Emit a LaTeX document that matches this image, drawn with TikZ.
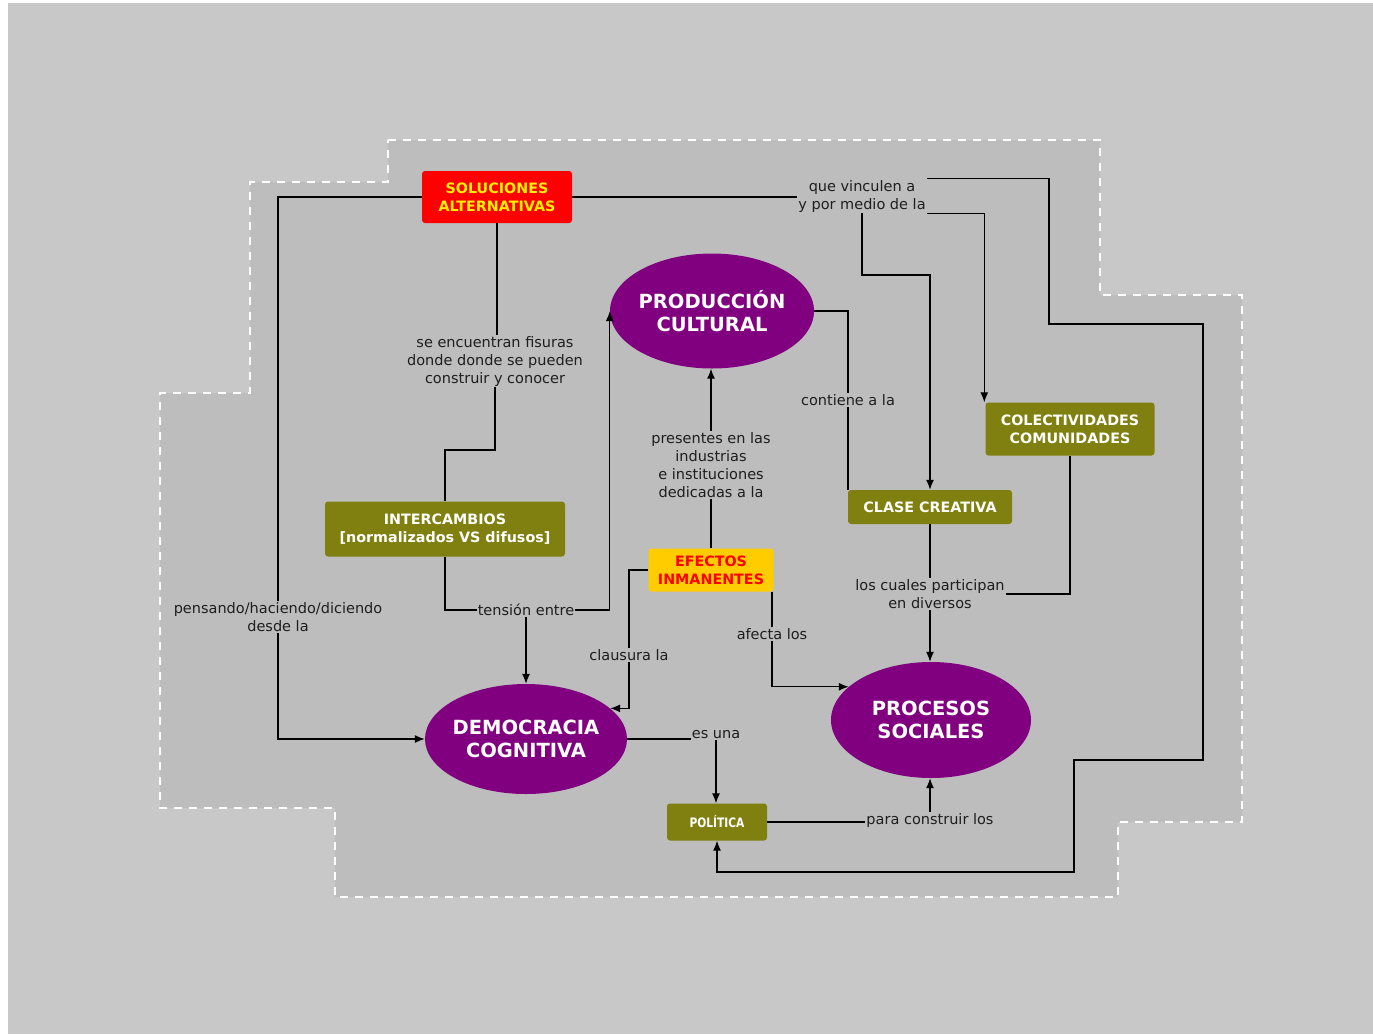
\documentclass[tikz,border=0pt]{standalone}
\usepackage{fontspec}
\setmainfont{DejaVu Sans}
\newfontfamily\condfont[FakeStretch=0.82]{DejaVu Sans}
\usetikzlibrary{shapes.geometric,arrows.meta}
\definecolor{outerbg}{RGB}{200,200,200}
\definecolor{innerbg}{RGB}{189,189,189}
\definecolor{olivefill}{RGB}{128,128,16}
\definecolor{purplefill}{RGB}{128,0,128}
\definecolor{efefill}{RGB}{255,204,0}
\definecolor{labeltext}{RGB}{30,30,30}
\tikzset{
  lbl/.style={inner sep=1pt, align=center, text=labeltext, font=\fontsize{14.5}{18}\selectfont},
  box/.style={rectangle, rounded corners=3pt, align=center, inner sep=2pt, font=\bfseries\fontsize{14.3}{18}\selectfont},
  obox/.style={box, fill=olivefill, text=white},
  oval/.style={ellipse, fill=purplefill, text=white, inner sep=-12pt, align=center, font=\bfseries\fontsize{19.5}{23}\selectfont},
  conn/.style={line width=1.3pt, draw=black},
  arr/.style={conn, -{Latex[length=10pt,width=8pt]}},
}
\begin{document}
\begin{tikzpicture}[x=1pt,y=-1pt]
\useasboundingbox (0,0) rectangle (1373,1034);
\fill[white] (0,0) rectangle (1373,1034);
\fill[outerbg] (8,3) rectangle (1373,1034);
\draw[fill=innerbg, draw=white, line width=2.5pt, dash pattern=on 8pt off 7pt]
  (388,140) -- (1100,140) -- (1100,295) -- (1242,295) -- (1242,822) -- (1118,822)
  -- (1118,897) -- (335,897) -- (335,808) -- (160,808) -- (160,393) -- (250,393)
  -- (250,182) -- (388,182) -- cycle;

% nodes
\node[box, fill=red, text=yellow, minimum width=150pt, minimum height=52pt] (sol) at (497,197) {SOLUCIONES\\ALTERNATIVAS};
\node[oval, minimum width=204pt, minimum height=115pt] (prod) at (712,311) {PRODUCCIÓN\\CULTURAL};
\node[obox, minimum width=240pt, minimum height=55pt] (inter) at (445,529) {INTERCAMBIOS\\{[}normalizados VS difusos{]}};
\node[box, fill=efefill, text=red, minimum width=125pt, minimum height=43pt] (efe) at (711,570) {EFECTOS\\INMANENTES};
\node[obox, minimum width=164pt, minimum height=34pt] (clase) at (930,507) {CLASE CREATIVA};
\node[obox, minimum width=169pt, minimum height=53pt] (col) at (1070,429) {COLECTIVIDADES\\COMUNIDADES};
\node[oval, minimum width=202pt, minimum height=110pt] (dem) at (526,739) {DEMOCRACIA\\COGNITIVA};
\node[oval, minimum width=200pt, minimum height=116pt] (proc) at (931,720) {PROCESOS\\SOCIALES};
\node[obox, minimum width=100pt, minimum height=37pt, font=\condfont\bfseries\fontsize{13}{16}\selectfont] (pol) at (717,822) {POLÍTICA};

% labels
\node[lbl] (l1) at (278,617) {pensando/haciendo/diciendo\\desde la};
\node[lbl] (l2) at (495,361) {se encuentran fisuras\\donde donde se pueden\\construir y conocer};
\node[lbl] (l3) at (526,610) {tensión entre};
\node[lbl] (l4) at (862,196) {que vinculen a\\y por medio de la};
\node[lbl] (l5) at (848,400) {contiene a la};
\node[lbl] (l6) at (711,465) {presentes en las\\industrias\\e instituciones\\dedicadas a la};
\node[lbl] (l7) at (629,655) {clausura la};
\node[lbl] (l8) at (772,634) {afecta los};
\node[lbl] (l9) at (930,594) {los cuales participan\\en diversos};
\node[lbl] (l10) at (716,735) {es una};
\node[lbl] (l11) at (930,820) {para construir los};

% connectors
\draw[conn] (sol.west) -| (l1.north);
\draw[arr] (l1.south) |- (dem.west);

\draw[conn] (sol.south) -- (sol.south |- l2.north);
\draw[conn] (l2.south) -- (l2.south |- 0,450) -| (inter.north);
\draw[conn] (inter.south) |- (l3.west);
\draw[arr] (l3.east) -| (prod.west);
\draw[arr] (l3.south) -- (dem.north);

\draw[conn] (sol.east) -- (sol.east -| l4.west);
\draw[arr] (l4.north east) -| (1049,324) -| (1203,760) -| (1074,872) -| (pol.south);
\draw[arr] (l4.south east) -| ([xshift=-1pt]col.north west);
\draw[arr] (l4.south) |- (clase.north |- 0,275) -- (clase.north);

\draw[conn] (prod.east) -| (l5.north);
\draw[conn] (l5.south) -- (l5.south |- clase.north);

\draw[conn] (efe.north) -- (efe.north |- l6.south);
\draw[arr] (l6.north) -- (l6.north |- prod.south);

\draw[conn] (efe.west) -| (l7.north);
\draw[arr] (l7.south) |- (dem.20);

\draw[conn] (l8.north |- efe.south) -- (l8.north);
\draw[arr] (l8.south) |- (proc.158);

\draw[conn] (clase.south) -- (clase.south |- l9.north);
\draw[arr] (l9.south) -- (l9.south |- proc.north);
\draw[conn] (col.south) |- (l9.east);

\draw[conn] (dem.east) -- (dem.east -| l10.west);
\draw[arr] (l10.south) -- (l10.south |- pol.north);

\draw[conn] (pol.east) -- (pol.east -| l11.west);
\draw[arr] (l11.north) -- (l11.north |- proc.south);
\end{tikzpicture}
\end{document}
